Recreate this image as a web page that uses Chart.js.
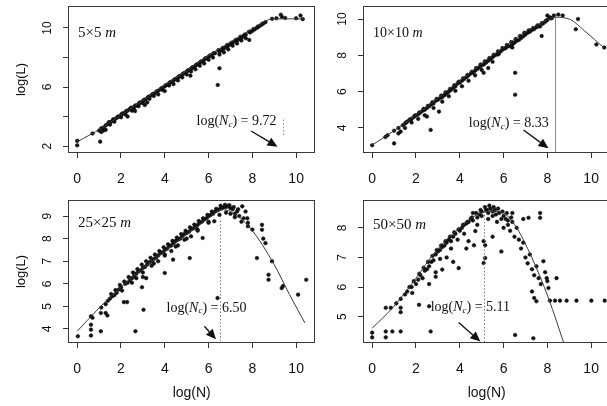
<!DOCTYPE html>
<html><head><meta charset="utf-8">
<script src="https://cdn.jsdelivr.net/npm/chart.js@4.4.1/dist/chart.umd.min.js"></script>
<style>
html,body{margin:0;padding:0;background:#fff;width:607px;height:406px;overflow:hidden;position:relative}
canvas{position:absolute;display:block}
</style></head><body>
<canvas id="c1" width="320" height="194" style="left:0;top:0"></canvas>
<canvas id="c2" width="320" height="194" style="left:295px;top:0"></canvas>
<canvas id="c3" width="320" height="212" style="left:0;top:194px"></canvas>
<canvas id="c4" width="320" height="212" style="left:295px;top:194px"></canvas>
<script>
// ---------- data ----------
const xTicks = [0, 2, 4, 6, 8, 10];
const yTicks1 = [2, 4, 6, 8, 10];
const yLabels1 = [2, 6, 10];
const yTicks2 = [4, 6, 8, 10];
const yTicks3 = [4, 5, 6, 7, 8, 9];
const yTicks4 = [5, 6, 7, 8];
const panelNames = ['5×5', '10×10', '25×25', '50×50'];
const ncValues = ['9.72', '8.33', '6.50', '5.11'];
const xTitle = 'log(N)';
const yTitle = 'log(L)';

// 5x5 m
const points1 = [[0,2.05],[0,2.35],[0.7,2.85],[1.0,3.05],[1.05,2.3],[1.1,3.2],[1.1,2.95],[1.2,3.05],[1.2,3.25],[1.3,3.1],[1.3,3.4],[1.4,3.5],[1.5,3.6],[1.5,3.45],[1.6,3.7],[1.7,3.8],[1.7,3.65],[1.8,3.9],[1.9,4.0],[2.0,4.1],[2.0,3.95],[2.1,4.2],[2.2,4.3],[2.2,4.15],[2.3,4.4],[2.3,4.0],[2.4,4.5],[2.5,4.6],[2.5,4.4],[2.6,4.65],[2.6,4.45],[2.64,4.37],[2.7,4.75],[2.8,4.85],[2.8,4.7],[2.9,4.95],[3.0,5.05],[3.0,4.9],[3.09,4.78],[3.1,5.15],[3.2,5.25],[3.2,4.95],[3.3,5.35],[3.3,5.2],[3.4,5.45],[3.5,5.55],[3.5,5.4],[3.6,5.65],[3.7,5.75],[3.7,5.5],[3.8,5.85],[3.9,5.95],[3.9,5.8],[4.0,6.05],[4.0,5.73],[4.1,6.15],[4.2,6.25],[4.2,6.1],[4.3,6.35],[4.4,6.45],[4.4,6.2],[4.5,6.55],[4.6,6.65],[4.6,6.45],[4.7,6.75],[4.8,6.85],[4.8,6.65],[4.9,6.95],[5.0,7.05],[5.0,6.85],[5.1,7.15],[5.17,6.77],[5.2,7.25],[5.2,7.05],[5.3,7.35],[5.4,7.45],[5.4,7.2],[5.5,7.55],[5.6,7.65],[5.6,7.45],[5.7,7.75],[5.8,7.85],[5.8,7.6],[5.9,7.95],[6.0,8.05],[6.0,7.85],[6.1,8.15],[6.2,8.25],[6.2,8.0],[6.3,8.3],[6.42,6.14],[6.5,7.27],[6.5,8.4],[6.5,8.2],[6.6,8.5],[6.7,8.6],[6.7,8.35],[6.8,8.7],[6.9,8.8],[6.9,8.55],[7.0,8.9],[7.1,9.0],[7.1,8.8],[7.2,9.1],[7.3,9.15],[7.3,8.95],[7.4,9.25],[7.5,9.35],[7.5,9.15],[7.6,9.45],[7.7,9.55],[7.7,9.3],[7.86,9.19],[7.9,9.7],[8.0,9.8],[8.1,9.9],[8.2,10.0],[8.3,10.1],[8.4,10.2],[8.5,10.3],[8.6,10.4],[8.9,10.62],[9.1,10.66],[9.3,10.9],[9.35,10.75],[9.5,10.68],[10.0,10.66],[10.2,10.85],[10.3,10.6],
  [1.45,3.62],[1.65,3.82],[1.85,3.98],[2.05,4.2],[2.25,4.38],[2.45,4.58],[2.65,4.75],[2.85,4.95],[3.05,5.12],[3.25,5.33],[3.45,5.52],[3.65,5.72],[3.85,5.92],[4.05,6.12],[4.25,6.33],[4.45,6.52],[4.65,6.72],[4.85,6.92],[5.05,7.12],[5.25,7.32],[5.45,7.52],[5.65,7.72],[5.85,7.95],[6.05,8.12],[6.25,8.3],[6.45,8.5],[6.65,8.65],[6.85,8.85],[7.05,9.0],[7.25,9.2],[7.45,9.4],[7.65,9.55],[7.85,9.75],[8.05,9.92],[8.25,10.1],[8.45,10.28]];
const fit1 = [[0,2.29],[1.1,3.2],[2.1,4.22],[3,5.1],[4,6.14],[5,7.1],[5.8,7.94],[7,9.05],[8,9.95],[8.55,10.43],[8.9,10.62],[9.4,10.62],[10.4,10.62]];

// 10x10 m
const points2 = [[0,3.05],[0.6,3.5],[0.7,3.6],[1.0,3.15],[1.0,3.85],[1.2,3.7],[1.3,3.8],[1.2,4.0],[1.4,4.15],[1.5,4.25],[1.5,4.0],[1.6,4.35],[1.7,4.45],[1.8,4.5],[1.8,4.3],[1.9,4.6],[2.0,4.7],[2.1,4.75],[2.1,4.5],[2.2,4.85],[2.3,4.95],[2.4,5.0],[2.4,4.7],[2.5,4.63],[2.5,5.1],[2.6,5.2],[2.7,5.3],[2.67,3.89],[2.8,5.35],[2.8,5.1],[2.9,5.5],[3.0,5.55],[3.05,4.9],[3.1,5.65],[3.2,5.7],[3.2,5.45],[3.3,5.8],[3.4,5.9],[3.5,6.0],[3.5,5.75],[3.6,6.1],[3.7,6.2],[3.8,6.3],[3.8,6.05],[3.9,6.45],[4.0,6.5],[4.1,6.6],[4.1,6.3],[4.2,6.7],[4.3,6.8],[4.4,6.9],[4.4,6.6],[4.5,7.0],[4.6,7.05],[4.7,7.15],[4.7,6.9],[4.8,7.25],[4.9,7.35],[5.0,7.45],[5.0,7.2],[5.09,7.04],[5.1,7.5],[5.2,7.6],[5.3,7.3],[5.3,7.7],[5.4,7.8],[5.5,7.9],[5.5,7.65],[5.6,8.0],[5.7,8.05],[5.77,8.06],[5.8,8.15],[5.9,8.25],[6.0,8.35],[6.1,8.4],[6.2,8.5],[6.3,8.5],[6.4,8.6],[6.4,8.43],[6.5,8.7],[6.53,7.04],[6.53,5.83],[6.6,8.8],[6.7,8.85],[6.8,8.95],[6.9,9.05],[7.0,9.15],[7.1,9.25],[7.2,9.3],[7.3,9.4],[7.4,9.45],[7.5,9.55],[7.6,9.6],[7.67,9.6],[7.74,9.07],[7.8,9.75],[7.9,9.85],[8.0,9.95],[8.0,10.2],[8.1,10.1],[8.2,10.05],[8.3,10.2],[8.5,10.25],[8.7,10.2],[9.3,9.44],[9.4,10.0],[10.24,8.6],[10.6,8.43],
  [1.55,4.3],[1.75,4.48],[1.95,4.68],[2.15,4.85],[2.35,5.05],[2.55,5.22],[2.75,5.42],[2.95,5.6],[3.15,5.78],[3.35,5.97],[3.55,6.15],[3.75,6.35],[3.95,6.55],[4.15,6.73],[4.35,6.92],[4.55,7.1],[4.75,7.3],[4.95,7.5],[5.15,7.67],[5.35,7.85],[5.55,8.03],[5.75,8.22],[5.95,8.4],[6.15,8.57],[6.35,8.73],[6.55,8.9],[6.75,9.07],[6.95,9.25],[7.15,9.38],[7.35,9.5],[7.55,9.65],[7.75,9.78],[7.95,9.92],[8.15,10.05]];
const fit2 = [[0,3.06],[1,3.85],[2,4.72],[3,5.65],[4,6.6],[5,7.55],[6,8.45],[7,9.3],[7.9,9.9],[8.33,10.1],[9,10.0],[9.7,9.35],[10.6,8.4]];

// 25x25 m
const points3 = [[0.03,3.68],[0.63,3.71],[0.63,3.97],[0.63,4.19],[0.63,4.56],[0.7,4.5],[1.08,3.9],[1.08,4.71],[1.1,4.95],[1.3,4.71],[1.38,4.6],[1.3,5.1],[1.4,5.25],[1.5,5.35],[1.6,5.45],[1.7,5.5],[1.8,5.6],[1.9,5.75],[2.0,5.85],[2.05,5.7],[2.13,5.19],[2.2,6.0],[2.28,5.19],[2.3,6.05],[2.4,6.15],[2.5,6.25],[2.6,6.35],[2.66,3.9],[2.7,6.25],[2.7,6.45],[2.8,6.55],[2.9,6.6],[2.96,5.85],[3.0,6.3],[3.03,4.85],[3.0,6.7],[3.1,6.75],[3.15,6.25],[3.2,6.85],[3.3,6.95],[3.4,7.0],[3.4,6.8],[3.5,7.1],[3.6,7.15],[3.7,7.25],[3.7,7.0],[3.8,7.35],[3.9,7.4],[4.0,7.5],[4.0,6.48],[4.0,7.25],[4.1,7.55],[4.2,7.65],[4.3,7.7],[4.3,7.45],[4.38,7.07],[4.4,7.8],[4.5,7.9],[4.6,7.95],[4.6,7.7],[4.7,8.0],[4.8,8.1],[4.9,8.2],[4.9,7.95],[5.0,8.25],[5.1,8.3],[5.14,7.14],[5.2,8.4],[5.2,8.1],[5.3,8.45],[5.4,8.5],[5.5,8.6],[5.5,8.35],[5.6,8.7],[5.7,8.75],[5.73,8.03],[5.8,8.85],[5.9,8.9],[6.0,9.0],[6.0,8.7],[6.1,9.05],[6.2,9.1],[6.26,8.77],[6.3,9.2],[6.4,9.25],[6.41,5.37],[6.5,9.3],[6.6,9.35],[6.7,9.4],[6.8,9.4],[6.8,9.15],[6.9,9.45],[7.0,9.35],[7.0,9.1],[7.1,9.3],[7.2,9.1],[7.3,9.2],[7.4,9.0],[7.54,9.43],[7.6,8.9],[7.69,9.2],[7.77,8.9],[7.8,8.7],[8.21,7.14],[8.44,8.61],[8.44,8.39],[8.5,8.0],[8.6,7.8],[8.74,6.4],[8.74,6.18],[8.9,7.0],[9.34,5.81],[9.4,5.9],[10.09,5.52],[10.46,6.18],
  [1.55,5.55],[1.75,5.72],[1.95,5.95],[2.15,6.1],[2.35,6.3],[2.55,6.5],[2.75,6.65],[2.95,6.85],[3.15,7.0],[3.35,7.15],[3.55,7.3],[3.75,7.45],[3.95,7.62],[4.15,7.75],[4.35,7.9],[4.55,8.05],[4.75,8.2],[4.95,8.35],[5.15,8.5],[5.35,8.62],[5.55,8.78],[5.75,8.9],[5.95,9.05],[6.15,9.2],[6.35,9.32],[6.55,9.45],[6.75,9.5],[6.95,9.48],[7.15,9.4],[7.35,9.3],
  [2.5,6.05],[3.0,6.5],[3.5,6.9],[4.0,7.3],[4.5,7.65],[5.0,8.0],[5.5,8.4],[6.0,8.75],[6.5,9.05],[7.2,8.95],[7.5,8.75],[7.8,8.55],[8.0,8.4]];
const fit3 = [[0,3.9],[1,4.93],[2,5.85],[3,6.68],[4,7.44],[5,8.2],[6,8.9],[6.6,9.28],[7,9.2],[7.9,8.47],[9,6.85],[9.7,5.52],[10.4,4.27]];

// 50x50 m
const points4 = [[0,4.46],[0,4.3],[0.62,4.5],[0.62,4.3],[0.92,4.5],[1.3,4.5],[2.67,4.5],[0.62,5.3],[0.85,5.3],[1.3,5.3],[1.3,5.15],[2.14,5.4],[2.6,5.35],[1.5,5.75],[1.6,5.85],[1.83,5.8],[1.8,6.0],[2.0,6.1],[2.1,6.25],[2.2,6.4],[2.3,6.3],[2.4,6.55],[2.5,6.6],[2.6,6.1],[2.6,6.7],[2.7,6.85],[2.8,6.9],[2.9,6.35],[2.9,6.5],[2.9,7.1],[3.0,7.2],[3.1,6.95],[3.1,7.25],[3.2,6.59],[3.2,7.35],[3.3,7.4],[3.4,7.0],[3.4,7.5],[3.5,7.6],[3.6,7.55],[3.6,7.3],[3.7,7.7],[3.7,6.85],[3.8,7.8],[3.9,7.6],[3.95,6.64],[4.0,7.9],[4.1,8.0],[4.2,7.8],[4.2,8.1],[4.3,8.15],[4.3,7.3],[4.4,7.55],[4.4,8.2],[4.5,8.3],[4.6,8.25],[4.65,7.41],[4.71,7.89],[4.8,8.35],[4.8,8.1],[4.9,8.45],[5.0,8.4],[5.0,8.55],[5.09,7.55],[5.09,6.81],[5.16,7.41],[5.16,6.98],[5.2,8.6],[5.3,8.5],[5.3,8.3],[5.4,8.65],[5.5,8.55],[5.5,8.4],[5.5,7.7],[5.6,8.6],[5.7,8.2],[5.8,8.5],[5.9,8.3],[5.9,7.2],[6.0,8.4],[6.0,8.0],[6.1,8.3],[6.2,8.1],[6.3,7.9],[6.4,8.2],[6.4,8.5],[6.5,7.7],[6.53,4.38],[6.6,8.0],[6.7,7.6],[6.8,7.3],[6.9,7.5],[6.9,8.3],[7.0,7.0],[7.1,6.8],[7.14,8.34],[7.2,7.1],[7.3,6.6],[7.3,5.85],[7.36,4.27],[7.4,5.63],[7.4,6.4],[7.5,6.7],[7.5,5.52],[7.6,6.3],[7.67,8.5],[7.67,8.34],[7.7,6.1],[7.82,6.87],[7.9,6.5],[7.97,6.3],[8.05,5.97],[8.0,6.2],[8.42,6.3],[8.12,5.54],[8.35,5.54],[8.58,5.54],[8.88,5.54],[9.33,5.54],[10.01,5.54],[10.62,5.54],
  [1.1,5.45],[1.3,5.6],[1.7,6.0],[1.9,6.2],[2.15,6.45],[2.35,6.65],[2.55,6.85],[2.75,7.05],[2.95,7.25],[3.15,7.4],[3.35,7.55],[3.55,7.7],[3.75,7.85],[3.95,7.95],[4.15,8.1],[4.35,8.2],[4.55,8.35],[4.75,8.5],[4.95,8.6],[5.15,8.7],[5.35,8.75],[5.55,8.7],[5.75,8.65],[5.95,8.55],[6.15,8.5],[6.35,8.35],[5.25,8.6],[5.65,8.45],[4.6,8.5],[6.2,8.25]];
const fit4 = [[0,4.61],[0.92,5.29],[2,6.3],[2.9,7.21],[4,8.0],[5,8.51],[5.8,8.56],[6.5,8.11],[7.3,6.98],[8.05,5.63],[8.8,4.0]];

// ---------- drawing helpers ----------
const SERIF = '"Liberation Serif", "DejaVu Serif", serif';
const SANS = '"Liberation Sans", Arial, sans-serif';

function richText(ctx, parts, x, y) {
  ctx.textBaseline = 'middle';
  ctx.textAlign = 'left';
  for (const p of parts) {
    ctx.font = p.f;
    ctx.fillText(p.t, x, y + (p.dy || 0));
    x += ctx.measureText(p.t).width;
  }
}

const decoPlugin = {
  id: 'deco',
  afterDatasetsDraw(chart, args, o) {
    const {ctx, chartArea: a, scales: {x, y}} = chart;
    ctx.save();
    ctx.beginPath();
    ctx.rect(a.left, a.top, a.width, a.height);
    ctx.clip();
    ctx.strokeStyle = o.vColor; ctx.lineWidth = 1; ctx.setLineDash(o.vDash);
    const vx = Math.round(x.getPixelForValue(o.vx)) + 0.5;
    ctx.beginPath();
    ctx.moveTo(vx, y.getPixelForValue(o.vy[0]));
    ctx.lineTo(vx, y.getPixelForValue(o.vy[1]));
    ctx.stroke();
    ctx.setLineDash([]);
    const x0 = x.getPixelForValue(o.arrow[0]), y0 = y.getPixelForValue(o.arrow[1]);
    const x1 = x.getPixelForValue(o.arrow[2]), y1 = y.getPixelForValue(o.arrow[3]);
    const ang = Math.atan2(y1 - y0, x1 - x0), hl = 10, hw = 4.5;
    const bx = x1 - hl * Math.cos(ang), by = y1 - hl * Math.sin(ang);
    ctx.strokeStyle = '#111'; ctx.fillStyle = '#111'; ctx.lineWidth = 1.3;
    ctx.beginPath(); ctx.moveTo(x0, y0); ctx.lineTo(bx, by); ctx.stroke();
    ctx.beginPath();
    ctx.moveTo(x1, y1);
    ctx.lineTo(bx + hw * Math.sin(ang), by - hw * Math.cos(ang));
    ctx.lineTo(bx - hw * Math.sin(ang), by + hw * Math.cos(ang));
    ctx.closePath(); ctx.fill();
    ctx.fillStyle = '#111';
    richText(ctx, [
      {t: 'log(', f: '14px ' + SERIF},
      {t: 'N', f: 'italic 14px ' + SERIF},
      {t: 'c', f: 'italic 9px ' + SERIF, dy: 3},
      {t: ') = ' + o.nc, f: '14px ' + SERIF}
    ], x.getPixelForValue(o.text[0]), y.getPixelForValue(o.text[1]));
    richText(ctx, [
      {t: o.name + ' ', f: o.nameSize + 'px ' + SERIF},
      {t: 'm', f: 'italic ' + o.nameSize + 'px ' + SERIF}
    ], a.left + 10, a.top + o.nameDy);
    ctx.restore();
    ctx.save();
    ctx.strokeStyle = '#3a3a3a'; ctx.lineWidth = 1;
    ctx.strokeRect(Math.round(a.left) + 0.5, Math.round(a.top) + 0.5, Math.round(a.width) - 1, Math.round(a.height) - 1);
    ctx.restore();
  }
};

function toXY(arr) { return arr.map(p => ({x: p[0], y: p[1]})); }

function makeChart(id, c) {
  return new Chart(document.getElementById(id), {
    type: 'scatter',
    data: {datasets: [
      {data: toXY(c.points), pointStyle: 'circle', pointRadius: 1.8, borderColor: '#111', backgroundColor: '#111', borderWidth: 0.6, order: 2},
      {type: 'line', data: toXY(c.fit), showLine: true, borderColor: '#3a3a3a', borderWidth: 1, pointRadius: 0, fill: false, cubicInterpolationMode: 'monotone', order: 1}
    ]},
    options: {
      responsive: false, animation: false, events: [],
      layout: {padding: {left: 0, top: 6, right: 3, bottom: 0}},
      plugins: {legend: {display: false}, tooltip: {enabled: false}, deco: c.deco},
      scales: {
        x: {
          type: 'linear', min: -0.42, max: 10.88,
          afterBuildTicks: s => { s.ticks = xTicks.map(v => ({value: v})); },
          afterFit: s => { s.height = c.xh; s.paddingLeft = 0; s.paddingRight = 0; },
          grid: {drawOnChartArea: false, drawTicks: true, tickLength: 5, color: '#333'},
          border: {display: false},
          ticks: {font: {family: SANS, size: 14}, color: '#111', padding: 13, maxRotation: 0, autoSkip: false},
          title: c.xTitle ? {display: true, text: xTitle, font: {family: SANS, size: 14}, color: '#111', padding: {top: 0, bottom: 4}} : {display: false}
        },
        y: {
          type: 'linear', min: c.ymin, max: c.ymax,
          afterBuildTicks: s => { s.ticks = c.yTicks.map(v => ({value: v})); },
          afterFit: s => { s.width = 68; s.paddingTop = 0; s.paddingBottom = 0; },
          grid: {drawOnChartArea: false, drawTicks: true, tickLength: 5, color: '#333'},
          border: {display: false},
          ticks: {font: {family: SANS, size: 12}, color: '#111', padding: c.yPad, minRotation: 90, maxRotation: 90, crossAlign: 'center', autoSkip: false,
            callback: v => (c.yLabels.includes(v) ? String(v) : '')},
          title: c.yTitle ? {display: true, text: yTitle, font: {family: SANS, size: 13}, color: '#111', padding: {top: 14, bottom: 0}} : {display: false}
        }
      }
    },
    plugins: [decoPlugin]
  });
}

makeChart('c1', {points: points1, fit: fit1, ymin: 1.53, ymax: 11.49, yTicks: yTicks1, yLabels: yLabels1, yPad: 8.3, xh: 41, xTitle: false, yTitle: true,
  deco: {name: panelNames[0], nameSize: 15, nameDy: 27, nc: ncValues[0], vx: 9.4, vy: [2.75, 3.9], vDash: [1.5, 2], vColor: '#888', arrow: [7.94, 3.02, 9.15, 1.95], text: [5.45, 3.65]}});
makeChart('c2', {points: points2, fit: fit2, ymin: 2.62, ymax: 10.72, yTicks: yTicks2, yLabels: yTicks2, yPad: 8.3, xh: 41, xTitle: false, yTitle: false,
  deco: {name: panelNames[1], nameSize: 14, nameDy: 27, nc: ncValues[1], vx: 8.33, vy: [2.0, 10.1], vDash: [], vColor: '#888', arrow: [6.91, 3.89, 8.05, 2.88], text: [4.41, 4.26]}});
makeChart('c3', {points: points3, fit: fit3, ymin: 3.38, ymax: 9.71, yTicks: yTicks3, yLabels: yTicks3, yPad: 11.7, xh: 63, xTitle: true, yTitle: true,
  deco: {name: panelNames[2], nameSize: 15, nameDy: 23, nc: ncValues[2], vx: 6.5, vy: [3.0, 8.9], vDash: [1.5, 2], vColor: '#777', arrow: [5.81, 4.12, 6.34, 3.55], text: [4.08, 4.93]}});
makeChart('c4', {points: points4, fit: fit4, ymin: 4.11, ymax: 8.94, yTicks: yTicks4, yLabels: yTicks4, yPad: 11.7, xh: 63, xTitle: true, yTitle: false,
  deco: {name: panelNames[3], nameSize: 15, nameDy: 25, nc: ncValues[3], vx: 5.11, vy: [3.9, 8.57], vDash: [1.5, 2], vColor: '#777', arrow: [3.95, 4.8, 4.94, 4.16], text: [2.67, 5.3]}});
</script>
</body></html>
